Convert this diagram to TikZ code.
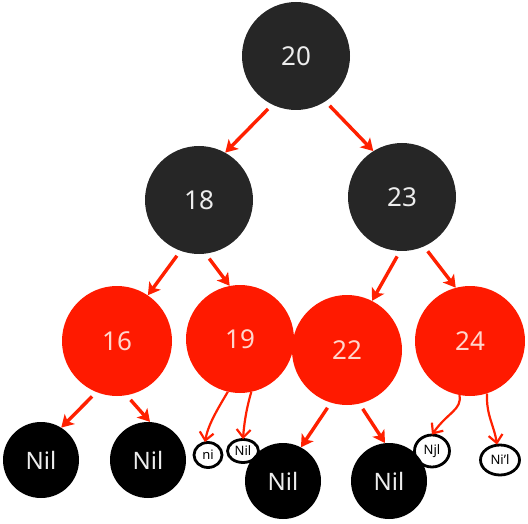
\documentclass[tikz,border=0pt]{standalone}
\usepackage{fontspec}
\setmainfont{Noto Sans}
\usetikzlibrary{arrows.meta,shapes.geometric}
\definecolor{nodeblack}{HTML}{262626}
\definecolor{nodered}{HTML}{FF1A00}
\definecolor{arrred}{HTML}{FF2000}
\definecolor{txtwhite}{HTML}{EDEDED}
\definecolor{txtpink}{HTML}{FFD6CC}
\tikzset{
  blk/.style={circle,fill=nodeblack,minimum size=108pt,inner sep=0pt,text=txtwhite,font=\fontsize{26}{26}\selectfont},
  rd/.style={circle,fill=nodered,minimum size=110pt,inner sep=0pt,text=txtpink,font=\fontsize{26}{26}\selectfont},
  nil/.style={circle,fill=black,minimum size=76pt,inner sep=0pt,text=txtwhite,font=\fontsize{24}{24}\selectfont},
  hnil/.style={ellipse,draw=black,line width=2.8pt,fill=white,inner sep=0pt,font=\bfseries\fontsize{13}{13}\selectfont},
  arr/.style={draw=arrred,line width=3.4pt,-{Stealth[length=12pt,width=14pt,inset=3pt]},shorten <=6pt},
  harr/.style={draw=arrred,line width=2.2pt,-{Straight Barb[length=8pt,width=14pt]}},
}
\begin{document}
\begin{tikzpicture}[x=1pt,y=-1pt]
\useasboundingbox (0,0) rectangle (528,524);
\node[blk] (n20) at (296,56) {20};
\node[blk] (n18) at (199,200) {18};
\node[blk] (n23) at (402,197) {23};
\node[rd] (n16) at (117,341) {16};
\node[rd, minimum size=108pt] (n19) at (240,339) {19};
\node[rd] (n24) at (470,341) {24};
\node[rd] (n22) at (347,350) {22};
\node[nil] (l1) at (41,460) {Nil};
\node[nil] (l2) at (148,460) {Nil};
% hand-drawn nils
\node[hnil, minimum width=28pt, minimum height=25pt] (h1) at (208,455) {ni};
\node[hnil, minimum width=31pt, minimum height=23pt] (h2) at (243,451) {Nil};
\node[hnil, minimum width=35pt, minimum height=32pt] (h3) at (432,451) {Njl};
\node[hnil, minimum width=39pt, minimum height=30pt] (h4) at (500,460) {Ni'l};
\node[nil] (l3) at (283,481) {Nil};
\node[nil] (l4) at (389,481) {Nil};
% arrows
\draw[arr] (n20.244) -- (n18.61);
\draw[arr] (n20.303) -- (n23.122);
\draw[arr] (n18.250) -- (n16.56);
\draw[arr] (n18.277) -- (n19.101);
\draw[arr] (n23.268) -- (n22.63);
\draw[arr] (n23.294) -- (n24.105);
\draw[arr] (n16.248) -- (l1.58);
\draw[arr] (n16.280) -- (l2.87);
\draw[arr] (n22.253) -- (l3.62);
\draw[arr] (n22.283) -- (l4.96);
% hand arrows
\draw[harr] (n19.257) .. controls (217,410) and (208,425) .. ([shift={(-3pt,-1pt)}]h1.north);
\draw[harr] (n19.282) .. controls (246,410) and (244,425) .. ([shift={(0pt,-1pt)}]h2.north);
\draw[harr] (n24.259) .. controls (462,410) and (448,412) .. ([shift={(0pt,-1pt)}]h3.north);
\draw[harr] (n24.288) .. controls (486,415) and (494,425) .. ([shift={(-3pt,-1pt)}]h4.north);
\end{tikzpicture}
\end{document}
